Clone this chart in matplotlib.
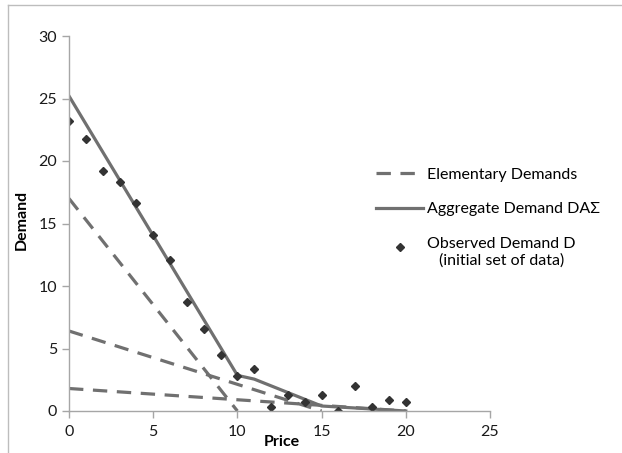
import matplotlib
matplotlib.use('Agg')
import matplotlib.pyplot as plt
from matplotlib.lines import Line2D
from matplotlib.legend_handler import HandlerLine2D

plt.rcParams['font.family'] = ['Lato', 'DejaVu Sans']

# observed demand (initial set of data)
price_obs = list(range(0, 21))
demand_obs = [23.2, 21.8, 19.2, 18.3, 16.6, 14.1, 12.1, 8.7, 6.6, 4.5, 2.8,
              3.4, 0.35, 1.3, 0.7, 1.3, 0.0, 2.0, 0.3, 0.9, 0.7]

# elementary demands (straight segments)
elem_x = [[0, 10], [0, 15], [0, 20]]
elem_y = [[17.0, 0.0], [6.4, 0.0], [1.8, 0.0]]

# aggregate demand
agg_x = [0, 10, 11, 15, 20]
agg_y = [25.2, 2.85, 2.55, 0.4, 0.0]

line_col = '#707070'
spine_col = '#a6a6a6'


class HandlerUp(HandlerLine2D):
    # put the marker level with the first line of a two-line label
    def create_artists(self, legend, orig_handle, xdescent, ydescent,
                       width, height, fontsize, trans):
        return super().create_artists(legend, orig_handle, xdescent,
                                       ydescent - 0.72 * fontsize,
                                       width, height, fontsize, trans)


fig = plt.figure(figsize=(6.22, 4.53), dpi=100)
ax = fig.add_axes([69 / 622, 1 - 411 / 453, (490 - 69) / 622, (411 - 36) / 453])

for xs, ys in zip(elem_x, elem_y):
    ax.plot(xs, ys, color=line_col, lw=2.3, dashes=(4.5, 3.0), solid_capstyle='butt')
ax.plot(agg_x, agg_y, color=line_col, lw=2.3)
ax.plot(price_obs, demand_obs, 'D', color='#333333', ms=4.5, ls='none')

ax.set_xlim(0, 25)
ax.set_ylim(0, 30)
ax.set_xticks([0, 5, 10, 15, 20, 25])
ax.set_yticks([0, 5, 10, 15, 20, 25, 30])
for s in ['top', 'right']:
    ax.spines[s].set_visible(False)
for s in ['left', 'bottom']:
    ax.spines[s].set_color(spine_col)
    ax.spines[s].set_linewidth(1.0)
ax.tick_params(colors=spine_col, labelcolor='#1a1a1a', labelsize=11.5,
               length=5, width=1.0, direction='out')
ax.tick_params(axis='x', pad=5)

fig.text(282 / 622, 1 - 442 / 453, 'Price', fontsize=11.5, fontweight='bold',
         ha='center', va='center')
fig.text(22 / 622, 1 - 220 / 453, 'Demand', fontsize=11.5, fontweight='bold',
         ha='center', va='center', rotation=90)

obs_handle = Line2D([], [], marker='D', color='#333333', ms=4, ls='none')
handles = [
    Line2D([], [], color=line_col, lw=2.3, dashes=(4.5, 3.0)),
    Line2D([], [], color=line_col, lw=2.3),
    obs_handle,
]
labels = ['Elementary Demands', 'Aggregate Demand DA\u03a3',
          'Observed Demand D\n(initial set of data)']
leg = fig.legend(handles, labels, loc='upper left', bbox_to_anchor=(362 / 622, 1 - 153 / 453),
                 frameon=False, fontsize=11.5, handlelength=2.9, handletextpad=0.3,
                 labelspacing=1.3, handler_map={obs_handle: HandlerUp()})
for t in leg.get_texts()[2:]:
    t.set_multialignment('center')

# image border (left and top)
fig.add_artist(Line2D([8 / 622, 8 / 622], [0, 1 - 5 / 453], color='#bdbdbd', lw=1.0))
fig.add_artist(Line2D([8 / 622, 1], [1 - 5 / 453, 1 - 5 / 453], color='#bdbdbd', lw=1.0))

fig.savefig('out.png', dpi=100)
